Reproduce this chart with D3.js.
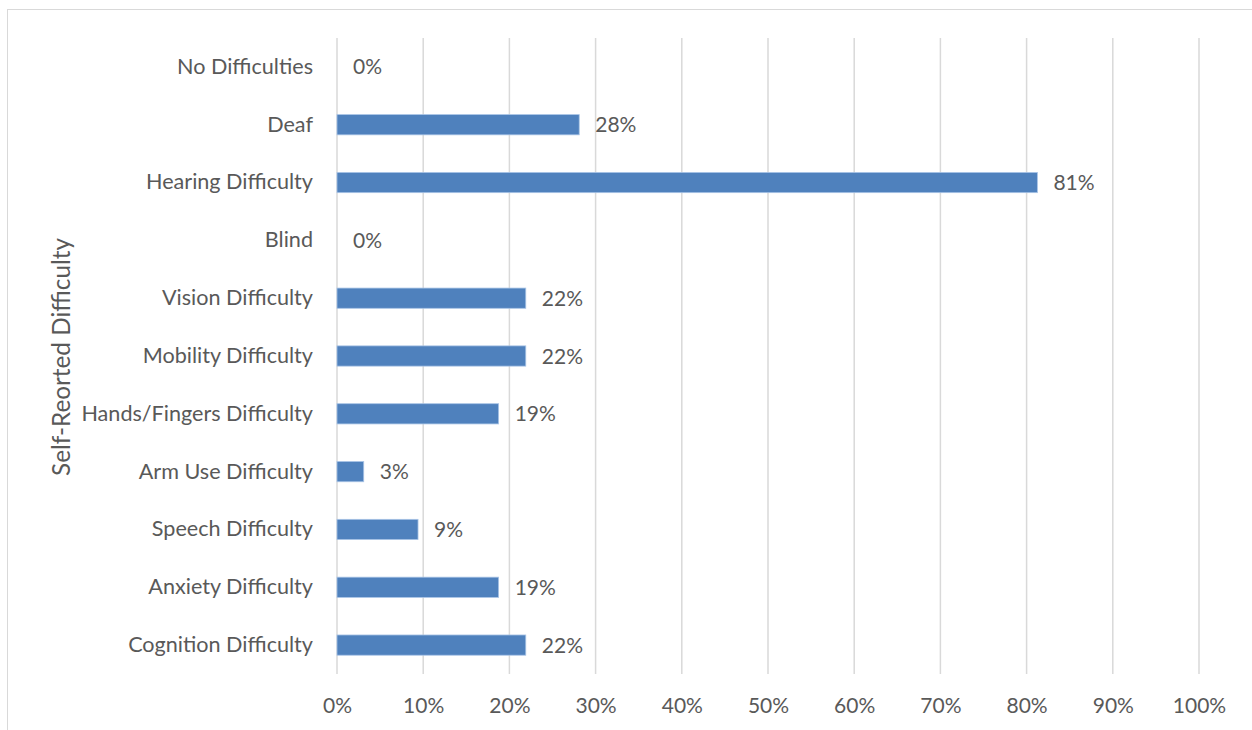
<!DOCTYPE html>
<html><head><meta charset="utf-8">
<script src="https://cdn.jsdelivr.net/npm/d3@7"></script>
<style>body{margin:0;background:#fff}svg{display:block}text{font-family:Lato,"Open Sans",sans-serif;fill:#595959}</style>
</head><body>
<script>
const categories = ["No Difficulties","Deaf","Hearing Difficulty","Blind","Vision Difficulty","Mobility Difficulty","Hands/Fingers Difficulty","Arm Use Difficulty","Speech Difficulty","Anxiety Difficulty","Cognition Difficulty"];
const values = [0, 0.281, 0.8125, 0, 0.219, 0.219, 0.1875, 0.031, 0.094, 0.1875, 0.219];
const xTicks = [0,0.1,0.2,0.3,0.4,0.5,0.6,0.7,0.8,0.9,1.0];
const yTitle = "Self-Reorted Difficulty";

const W=1252,H=730;
const svg=d3.select("body").append("svg").attr("width",W).attr("height",H);
svg.append("rect").attr("x",7.5).attr("y",9.5).attr("width",1260).attr("height",740).attr("fill","#fff").attr("stroke","#d9d9d9");

const x=d3.scaleLinear().domain([0,1]).range([337,1199]);
const y=d3.scaleBand().domain(categories).range([38,674]).paddingInner(0.65).paddingOuter(0.325);

svg.append("g").selectAll("line").data(xTicks).join("line")
 .attr("x1",d=>x(d)).attr("x2",d=>x(d)).attr("y1",38).attr("y2",674)
 .attr("stroke","#d9d9d9").attr("stroke-width",1.5);

const xa=svg.append("g").attr("transform","translate(0,674)").call(d3.axisBottom(x).tickValues(xTicks).tickFormat(d3.format(".0%")).tickSize(0).tickPadding(24));
xa.select(".domain").remove();
xa.selectAll("text").style("font-size","21px").attr("fill","#595959").style("font-family","Lato,sans-serif");

const ya=svg.append("g").attr("transform","translate(337,0)").call(d3.axisLeft(y).tickSize(0).tickPadding(24));
ya.select(".domain").remove();
ya.selectAll("text").style("font-size","21.6px").attr("fill","#595959").style("font-family","Lato,sans-serif");

const data=categories.map((c,i)=>({c,v:values[i]}));
svg.append("g").selectAll("rect").data(data.filter(d=>d.v>0)).join("rect")
 .attr("x",x(0)).attr("y",d=>y(d.c)).attr("width",d=>x(d.v)-x(0)).attr("height",y.bandwidth())
 .attr("fill","#4f81bd").attr("stroke","#a9c4e6").attr("stroke-width",0.8);

svg.append("g").selectAll("text").data(data).join("text")
 .attr("x",d=>x(d.v)+16).attr("y",d=>y(d.c)+y.bandwidth()/2).attr("dy","0.36em")
 .style("font-size","21px").text(d=>Math.round(d.v*100)+"%");

svg.append("text").attr("transform","translate(70,357) rotate(-90)").attr("text-anchor","middle")
 .style("font-size","24.3px").text(yTitle);
</script>
</body></html>
